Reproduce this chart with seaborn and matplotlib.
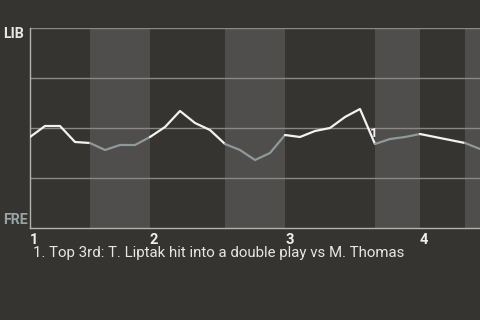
import numpy as np
import pandas as pd
import matplotlib
matplotlib.use("Agg")
import matplotlib.pyplot as plt
import seaborn as sns

# ---- data ----
win_prob = [0.455, 0.51, 0.51, 0.43, 0.425, 0.39, 0.415, 0.415, 0.455, 0.505,
            0.585, 0.525, 0.49, 0.42, 0.39, 0.34, 0.375, 0.465, 0.455, 0.485,
            0.50, 0.555, 0.595, 0.42, 0.445, 0.455, 0.47, 0.455, 0.44, 0.425, 0.395]
half_starts = [0, 4, 8, 13, 17, 23, 26, 29]   # play index where each half-inning starts
half_is_bottom = [False, True, False, True, False, True, False, True]
inning_labels = ["1", "2", "3", "4"]
inning_starts = [0, 8, 17, 26]
team_top = "LIB"
team_bottom = "FRE"
event_index = 23
event_label = "1"
caption = "1. Top 3rd: T. Liptak hit into a double play vs M. Thomas"

BG = "#363430"
BAND = "#4f4e4c"
LINE_TOP = "#f2f2f2"
LINE_BOT = "#8e9999"
GRID = "#8a8885"

sns.set_theme(style="dark")
plt.rcParams['font.family'] = ['Roboto', 'DejaVu Sans']

fig = plt.figure(figsize=(4.8, 3.2), dpi=100, facecolor=BG)
ax = fig.add_axes([30/480, 92/320, 450/480, 200/320])
ax.set_facecolor(BG)

n = len(win_prob)
xmax = 30
ax.set_xlim(0, xmax)
ax.set_ylim(0, 1)

# bands for bottom halves
ends = half_starts[1:] + [xmax + 1]
for s, e, b in zip(half_starts, ends, half_is_bottom):
    if b:
        ax.axvspan(s, e, color=BAND, lw=0, zorder=0)

# gridlines
for yv in [0.25, 0.5, 0.75, 1.0]:
    ax.axhline(yv, color=GRID, lw=1, zorder=1)

df = pd.DataFrame({"play": np.arange(n), "wp": win_prob})
for s, e, b in zip(half_starts, ends, half_is_bottom):
    sub = df[(df.play >= s) & (df.play <= min(e, n - 1))]
    sns.lineplot(data=sub, x="play", y="wp", color=LINE_BOT if b else LINE_TOP,
                 lw=1.6, ax=ax, estimator=None, sort=False, zorder=3)

ax.text(event_index - 0.1, win_prob[event_index] + 0.02, event_label, color=LINE_TOP,
        fontsize=9.5, fontweight="bold", ha="center", va="bottom", zorder=4)

for sp in ["top", "right"]:
    ax.spines[sp].set_visible(False)
for sp in ["left", "bottom"]:
    ax.spines[sp].set_visible(True)
    ax.spines[sp].set_color("#b5b3b0")
    ax.spines[sp].set_linewidth(1)

ax.set_yticks([])
ax.set_xticks(inning_starts)
ax.set_xticklabels(inning_labels, fontsize=10.5, fontweight="bold", color="#eeeeee", ha="left")
ax.tick_params(axis="x", length=0, pad=3.5)
ax.set_xlabel("")
ax.set_ylabel("")

fig.text(3/480, 1 - 34/320, team_top, fontsize=10.3, fontweight="bold", color="#e6e6e6",
         ha="left", va="center")
fig.text(3/480, 1 - 220/320, team_bottom, fontsize=10.3, fontweight="bold", color="#9aa3a3",
         ha="left", va="center")
fig.text(33/480, 1 - 253/320, caption, fontsize=10.8, color="#e6e6e6", ha="left", va="center")

fig.savefig("out.png", dpi=100, facecolor=BG)
